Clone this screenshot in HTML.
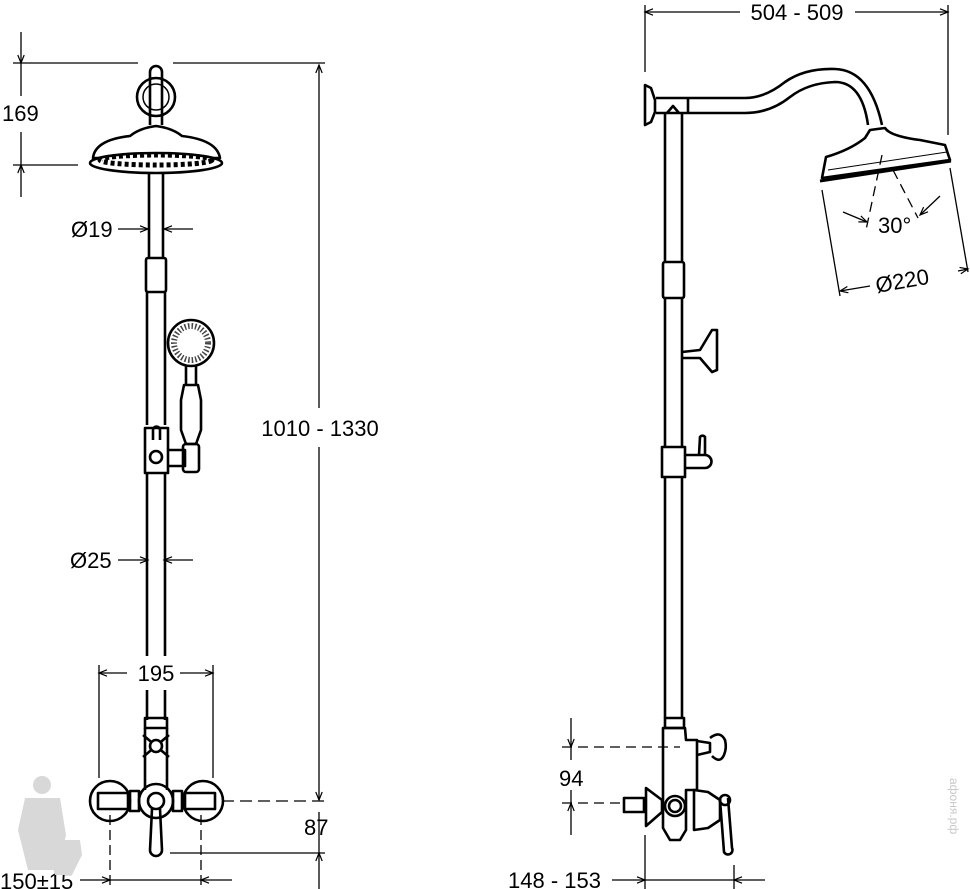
<!DOCTYPE html>
<html><head><meta charset="utf-8"><style>
html,body{margin:0;padding:0;background:#fff;}
svg{display:block;}
text{font-family:"Liberation Sans",sans-serif;font-size:22px;fill:#000;}
</style></head><body>
<svg width="970" height="889" viewBox="0 0 970 889" xmlns="http://www.w3.org/2000/svg">
<defs>
<marker id="a" viewBox="0 0 10 10" refX="10" refY="5" markerWidth="14" markerHeight="8" orient="auto-start-reverse" markerUnits="userSpaceOnUse"><path d="M0,1 L10,5 L0,9" fill="none" stroke="#000" stroke-width="1.5"/></marker>
</defs>
<g fill="none" stroke="#000" stroke-width="1.3">
<line x1="13" y1="63" x2="138" y2="63"/><line x1="173" y1="63" x2="325" y2="63"/>
<line x1="13" y1="165" x2="78" y2="165"/>
<line x1="21" y1="32" x2="21" y2="63" marker-end="url(#a)"/>
<line x1="21" y1="197" x2="21" y2="165" marker-end="url(#a)"/>
<line x1="21" y1="63" x2="21" y2="96"/><line x1="21" y1="132" x2="21" y2="165"/>
<line x1="118" y1="229" x2="148" y2="229" marker-end="url(#a)"/>
<line x1="193" y1="229" x2="164" y2="229" marker-end="url(#a)"/>
<line x1="118" y1="560" x2="148" y2="560" marker-end="url(#a)"/>
<line x1="193" y1="560" x2="164" y2="560" marker-end="url(#a)"/>
<line x1="319" y1="408" x2="319" y2="65" marker-end="url(#a)"/>
<line x1="319" y1="447" x2="319" y2="800" marker-end="url(#a)"/>
<line x1="99" y1="665" x2="99" y2="778"/><line x1="213" y1="665" x2="213" y2="778"/>
<line x1="127" y1="673" x2="99" y2="673" marker-end="url(#a)"/>
<line x1="180" y1="673" x2="213" y2="673" marker-end="url(#a)"/>
<line x1="222" y1="801" x2="325" y2="801" stroke-dasharray="12,6"/>
<line x1="170" y1="853" x2="325" y2="853"/>
<line x1="319" y1="812" x2="319" y2="853"/>
<line x1="319" y1="889" x2="319" y2="853" marker-end="url(#a)"/>
<line x1="110" y1="815" x2="110" y2="889" stroke-dasharray="10,5"/>
<line x1="201" y1="815" x2="201" y2="889" stroke-dasharray="10,5"/>
<line x1="80" y1="880" x2="110" y2="880" marker-end="url(#a)"/>
<line x1="110" y1="880" x2="201" y2="880"/>
<line x1="232" y1="880" x2="201" y2="880" marker-end="url(#a)"/>
</g>
<text x="2" y="121">169</text>
<text x="71" y="237">Ø19</text>
<text x="70" y="568">Ø25</text>
<text x="320" y="436" text-anchor="middle">1010 - 1330</text>
<text x="156" y="681" text-anchor="middle">195</text>
<text x="304" y="835">87</text>
<text x="0" y="889">150±15</text>

<g fill="none" stroke="#000" stroke-width="2.6" stroke-linejoin="round">
<path d="M150,125 L150,72 A6,6 0 0 1 162,72 L162,125"/>
<circle cx="156" cy="97" r="19"/><circle cx="156" cy="97" r="13" stroke-width="1.5"/>
<path d="M93,158 Q95,140 130,136 Q140,128 156,126 Q172,128 182,136 Q217,140 220,158 Z"/>
<ellipse cx="156" cy="163" rx="66" ry="10" fill="#fff"/>
<ellipse cx="156" cy="160" rx="56" ry="5" stroke-width="5" stroke-dasharray="4,3"/>
<line x1="149" y1="173" x2="149" y2="258"/><line x1="163" y1="173" x2="163" y2="258"/>
<rect x="146" y="258" width="20" height="34" rx="2"/>
<line x1="147" y1="292" x2="147" y2="425"/><line x1="165" y1="292" x2="165" y2="425"/>
<rect x="145" y="428" width="23" height="45"/>
<path d="M153,440 L153,430 A3,3 0 0 1 160,430 L160,440"/>
<circle cx="156" cy="457" r="6"/>
<path d="M168,450 L185,450 L185,466 L168,466"/>
<rect x="183" y="444" width="16" height="28" rx="3"/>
<circle cx="191" cy="343" r="23"/>
<circle cx="191" cy="343" r="17" stroke-width="6" stroke-dasharray="1.5,2" stroke="#444"/>
<line x1="186" y1="366" x2="186" y2="385"/><line x1="196" y1="366" x2="196" y2="385"/>
<path d="M184,385 L198,385 L201,400 L201,430 L196,444 L186,444 L181,430 L181,400 Z"/>
<line x1="147" y1="473" x2="147" y2="656"/><line x1="165" y1="473" x2="165" y2="656"/>
<line x1="147" y1="690" x2="147" y2="720"/><line x1="165" y1="690" x2="165" y2="720"/>
<rect x="145" y="718" width="22" height="10"/>
<path d="M145,728 L145,790 M167,728 L167,790"/>
<path d="M143,735 L169,757 M169,735 L143,757"/>
<circle cx="156" cy="746" r="6" fill="#fff"/>
<circle cx="110" cy="801" r="20"/><circle cx="203" cy="801" r="20"/>
<circle cx="156" cy="801" r="17"/><circle cx="156" cy="801" r="8"/>
<rect x="98" y="793" width="30" height="16"/><rect x="185" y="793" width="30" height="16"/>
<rect x="130" y="791" width="9" height="20"/><rect x="173" y="791" width="9" height="20"/>
<path d="M152,809 L150,850 A4,4 0 0 0 162,850 L160,809"/>
</g>

<g fill="none" stroke="#000" stroke-width="1.3">
<line x1="645" y1="5" x2="645" y2="72"/><line x1="948" y1="5" x2="948" y2="135"/>
<line x1="740" y1="12" x2="645" y2="12" marker-end="url(#a)"/>
<line x1="855" y1="12" x2="948" y2="12" marker-end="url(#a)"/>
<line x1="822" y1="190" x2="840" y2="296"/><line x1="950" y1="168" x2="968" y2="272"/>
<line x1="870" y1="286" x2="840" y2="291" marker-end="url(#a)"/>
<line x1="958" y1="271" x2="968" y2="269" marker-end="url(#a)"/>
<path d="M882,155 L866,230 M893,170 L918,218" stroke-dasharray="10,6"/>
<line x1="843" y1="212" x2="867" y2="222" marker-end="url(#a)"/>
<line x1="940" y1="196" x2="920" y2="215" marker-end="url(#a)"/>
<line x1="571" y1="718" x2="571" y2="747" marker-end="url(#a)"/>
<line x1="571" y1="835" x2="571" y2="803" marker-end="url(#a)"/>
<line x1="571" y1="747" x2="571" y2="760"/><line x1="571" y1="790" x2="571" y2="803"/>
<line x1="562" y1="747" x2="680" y2="747" stroke-dasharray="10,6"/>
<line x1="562" y1="803" x2="625" y2="803" stroke-dasharray="10,6"/>
<line x1="645" y1="835" x2="645" y2="889"/><line x1="734" y1="865" x2="734" y2="889"/>
<line x1="612" y1="880" x2="645" y2="880" marker-end="url(#a)"/>
<line x1="645" y1="880" x2="734" y2="880"/>
<line x1="765" y1="880" x2="734" y2="880" marker-end="url(#a)"/>
</g>
<text x="797" y="20" text-anchor="middle">504 - 509</text>
<text x="878" y="233">30°</text>
<text x="0" y="0" transform="translate(877,293) rotate(-10)">Ø220</text>
<text x="559" y="786">94</text>
<text x="508" y="888">148 - 153</text>

<g fill="none" stroke="#000" stroke-width="2.6" stroke-linejoin="round">
<path d="M645,85 L651,88 L655,100 L655,112 L651,122 L645,125 Z"/>
<path d="M656,98 L745,98 Q765,98 785,82 Q805,68 835,69 Q870,70 882,125"/>
<path d="M656,113 L745,113 Q770,113 790,97 Q808,83 835,82 Q862,82 868,125"/>
<line x1="688" y1="98" x2="688" y2="113"/>
<path d="M667,113 L673,106 L679,113"/>
<line x1="665" y1="113" x2="665" y2="262"/><line x1="682" y1="113" x2="682" y2="262"/>
<rect x="663" y="262" width="21" height="36" rx="2"/>
<line x1="665" y1="298" x2="665" y2="448"/><line x1="682" y1="298" x2="682" y2="448"/>
<path d="M682,352 L700,350 L712,330 L717,330 L717,370 L712,372 L700,358 L682,358"/>
<rect x="662" y="447" width="23" height="30"/>
<path d="M685,455 L705,455 A6,6 0 0 1 705,468 L685,468"/>
<path d="M699,455 L700,437 A3,3 0 0 1 705,437 L705,455"/>
<line x1="665" y1="477" x2="665" y2="718"/><line x1="682" y1="477" x2="682" y2="718"/>
<path d="M822,178 L826,157 Q850,150 865,138 L870,130 L885,128 Q890,136 920,140 L945,145 L950,160 Z"/>
<line x1="820" y1="181" x2="951" y2="161" stroke-width="3"/>
<line x1="828" y1="170" x2="947" y2="152" stroke-width="1"/>
<rect x="665" y="718" width="19" height="10"/>
<path d="M663,728 L685,728 L686,740 L697,740 L697,790 L686,790 L686,830 L680,840 L670,840 L663,828 Z"/>
<path d="M697,741 L710,743 L710,752 L697,755"/>
<path d="M710,738 Q720,730 725,740 Q727,748 724,755 Q720,764 712,756"/>
<circle cx="675" cy="806" r="10"/><circle cx="675" cy="806" r="6"/>
<path d="M646,788 L662,800 L662,812 L646,826 Z"/>
<rect x="624" y="798" width="20" height="14"/>
<path d="M694,790 L708,792 L720,800 L720,820 L708,828 L694,830 Z"/>
<path d="M728,798 L732,848 A4,4 0 0 1 724,852 L720,800"/>
<circle cx="725" cy="800" r="5"/>
</g>

<g fill="#d8d8d8">
<circle cx="42" cy="785" r="9"/>
<path d="M25,798 L60,798 L66,835 L58,870 L28,870 L18,830 Z"/>
<path d="M50,840 L80,840 L82,855 L72,875 L55,875 L50,858 Z"/>
</g>
<text x="0" y="0" transform="translate(950,778) rotate(90)" style="font-size:12px;fill:#c8c8c8">афоня.рф</text>
</svg>
</body></html>
